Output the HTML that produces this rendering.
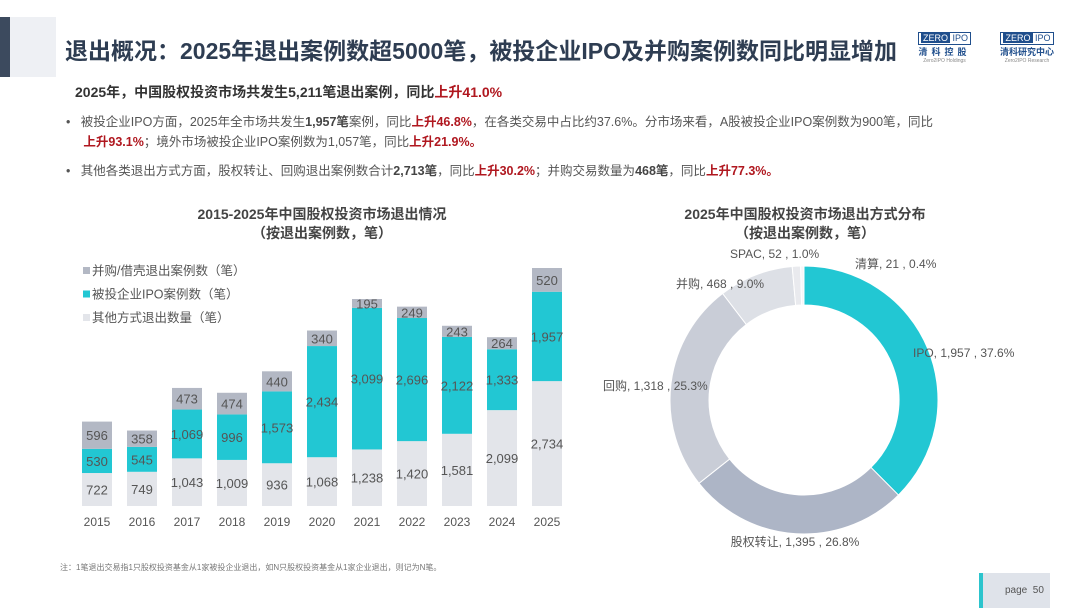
<!DOCTYPE html>
<html><head><meta charset="utf-8">
<style>
body{margin:0;width:1080px;height:608px;background:#fff;position:relative;overflow:hidden;font-family:"Liberation Sans","Noto Sans CJK SC",sans-serif;color:#555}
.abs{position:absolute;white-space:nowrap}
.red{color:#b0171f;font-weight:bold}
.b{font-weight:bold;color:#444}
.logo{position:absolute;font-size:9px;color:#1f4e8c;text-align:center}
.logo .z{display:inline-block;border:1px solid #1f4e8c;font-size:9px;line-height:11px;padding:0 2px}
.logo .z span{background:#1f4e8c;color:#fff;padding:0 2px}
</style></head><body>
<div class="abs" style="left:0;top:17px;width:10px;height:60px;background:#3c4a5e"></div>
<div class="abs" style="left:10px;top:17px;width:46px;height:60px;background:#eef0f4"></div>
<div class="abs" style="left:65px;top:32px;font-size:23px;font-weight:bold;color:#2e3d52">退出概况：2025年退出案例数超5000笔，被投企业IPO及并购案例数同比明显增加</div>
<div class="logo" style="left:918px;top:32px"><div class="z"><span>ZERO</span> IPO</div><div style="letter-spacing:4px;font-weight:bold">清科控股</div><div style="font-size:5px;color:#888">Zero2IPO Holdings</div></div>
<div class="logo" style="left:1000px;top:32px"><div class="z"><span>ZERO</span> IPO</div><div style="font-weight:bold">清科研究中心</div><div style="font-size:5px;color:#888">Zero2IPO Research</div></div>

<div class="abs" style="left:75px;top:82px;font-size:14px;font-weight:bold;color:#333">2025年，中国股权投资市场共发生5,211笔退出案例，同比<span class="red">上升41.0%</span></div>
<div class="abs" style="left:66px;top:112px;font-size:12.5px;line-height:20px">•&nbsp;&nbsp; 被投企业IPO方面，2025年全市场共发生<span class="b">1,957笔</span>案例，同比<span class="red">上升46.8%</span>，在各类交易中占比约37.6%。分市场来看，A股被投企业IPO案例数为900笔，同比<br>&nbsp;&nbsp;&nbsp;&nbsp; <span class="red">上升93.1%</span>；境外市场被投企业IPO案例数为1,057笔，同比<span class="red">上升21.9%。</span></div>
<div class="abs" style="left:66px;top:160px;font-size:12.5px">•&nbsp;&nbsp; 其他各类退出方式方面，股权转让、回购退出案例数合计<span class="b">2,713笔</span>，同比<span class="red">上升30.2%</span>；并购交易数量为<span class="b">468笔</span>，同比<span class="red">上升77.3%。</span></div>

<div class="abs" style="left:172px;top:205px;width:300px;text-align:center;font-size:14px;font-weight:bold;color:#444;line-height:19px">2015-2025年中国股权投资市场退出情况<br>（按退出案例数，笔）</div>
<div class="abs" style="left:655px;top:205px;width:300px;text-align:center;font-size:14px;font-weight:bold;color:#444;line-height:19px">2025年中国股权投资市场退出方式分布<br>（按退出案例数，笔）</div>

<svg class="abs" style="left:0;top:0" width="1080" height="608">
<g id="bars"></g><g id="donut"></g>
</svg>

<div class="abs" style="left:60px;top:562px;font-size:8px;color:#777">注：1笔退出交易指1只股权投资基金从1家被投企业退出，如N只股权投资基金从1家企业退出，则记为N笔。</div>
<div class="abs" style="left:979px;top:573px;width:71px;height:35px;background:#dfe3ea;border-left:4px solid #2cc4cd;box-sizing:border-box;font-size:10px;color:#555;line-height:35px;padding-left:22px">page&nbsp; 50</div>

<script>
const years=["2015","2016","2017","2018","2019","2020","2021","2022","2023","2024","2025"];
const otherVals=[722,749,1043,1009,936,1068,1238,1420,1581,2099,2734];
const ipoVals=[530,545,1069,996,1573,2434,3099,2696,2122,1333,1957];
const maVals=[596,358,473,474,440,340,195,249,243,264,520];
const seriesNames=["并购/借壳退出案例数（笔）","被投企业IPO案例数（笔）","其他方式退出数量（笔）"];
const donutLabels=["IPO","股权转让","回购","并购","SPAC","清算"];
const donutVals=[1957,1395,1318,468,52,21];
const donutPcts=["37.6%","26.8%","25.3%","9.0%","1.0%","0.4%"];

const NS="http://www.w3.org/2000/svg";
function mk(tag,attrs,parent,txt){const e=document.createElementNS(NS,tag);for(const k in attrs)e.setAttribute(k,attrs[k]);if(txt!==undefined)e.textContent=txt;parent.appendChild(e);return e;}
const fmt=v=>v.toLocaleString("en-US");
const bars=document.getElementById("bars");
const baseY=506, pxPer=238/5211;
const xc=i=>97+i*45;
const yv=v=>v*pxPer;
const bw=30;
const cols=["#e3e5ea","#22c7d3","#b3b8c4"];
years.forEach((yr,i)=>{
  let y=baseY;
  [[otherVals[i],cols[0],"other"],[ipoVals[i],cols[1],"ipo"],[maVals[i],cols[2],"ma"]].forEach(([v,c,n])=>{
    const h=yv(v); y-=h;
    const r=mk("rect",{x:xc(i)-bw/2,y:y,width:bw,height:h,fill:c},bars);
    
    
    const t=mk("text",{x:xc(i),y:y+h/2+5,"text-anchor":"middle","font-size":"13",fill:"#555"},bars,fmt(v));
    
    
  });
  const t=mk("text",{x:xc(i),y:526,"text-anchor":"middle","font-size":"12",fill:"#555"},bars,yr);
  
  
});
const legCols=[cols[2],cols[1],cols[0]];
seriesNames.forEach((s,i)=>{
  const y=271+i*23.5;
  const r=mk("rect",{x:83,y:y-4,width:7,height:7,fill:legCols[i]},bars);
  
  
  const t=mk("text",{x:92,y:y+4,"font-size":"12.5",fill:"#555"},bars,s);
  
  
});

const dg=document.getElementById("donut");
const cx=804,cy=400,R=134,r0=95;
const dcols=["#22c7d3","#adb5c6","#c9cdd7","#dde0e6","#e9eaee","#f6f6f8"];
const total=donutVals.reduce((a,b)=>a+b,0);
let ang=0;
const lblPos=[[913,357,"start"],[795,546,"middle"],[603,390,"start"],[676,288,"start"],[730,258,"start"],[855,268,"start"]];
donutVals.forEach((v,i)=>{
  const a0=ang, a1=ang+v/total*2*Math.PI; ang=a1;
  const p=(a,rr)=>[cx+rr*Math.sin(a),cy-rr*Math.cos(a)];
  const lg=(a1-a0)>Math.PI?1:0;
  const [x0,y0]=p(a0,R),[x1,y1]=p(a1,R),[x2,y2]=p(a1,r0),[x3,y3]=p(a0,r0);
  const path=mk("path",{d:`M${x0},${y0}A${R},${R} 0 ${lg} 1 ${x1},${y1}L${x2},${y2}A${r0},${r0} 0 ${lg} 0 ${x3},${y3}Z`,fill:dcols[i],stroke:"#fff","stroke-width":"1"},dg);
  
  
  const [lx,ly,an]=lblPos[i];
  const t=mk("text",{x:lx,y:ly,"text-anchor":an,"font-size":"12",fill:"#555"},dg,donutLabels[i]+", "+fmt(v)+" , "+donutPcts[i]);
  
  
});
</script>
</body></html>
